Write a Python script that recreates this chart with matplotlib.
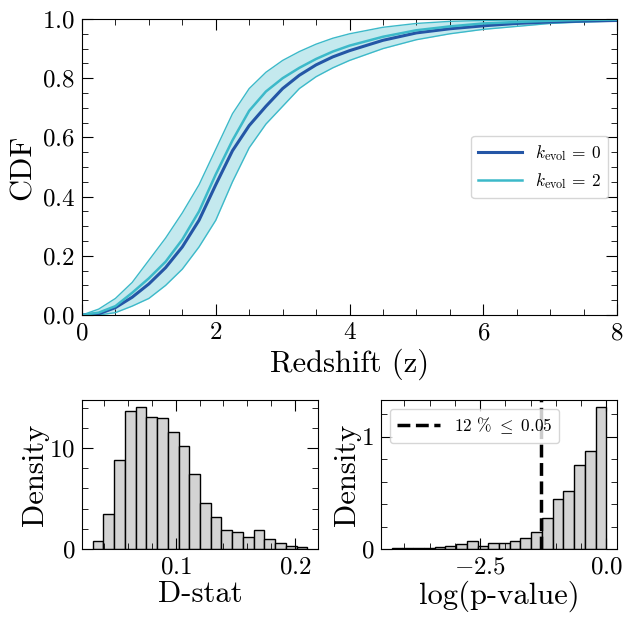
import numpy as np
import matplotlib
matplotlib.use("Agg")
import matplotlib.pyplot as plt
from matplotlib.ticker import MultipleLocator, AutoMinorLocator

plt.rcParams['font.family'] = 'serif'
plt.rcParams['font.serif'] = ['cmr10']
plt.rcParams['mathtext.fontset'] = 'cm'
plt.rcParams['axes.formatter.use_mathtext'] = True

# -------------------------
# CDF of redshift
# -------------------------
z = [0, 0.25, 0.5, 0.75, 1.0, 1.25, 1.5, 1.75, 2.0, 2.25, 2.5, 2.75, 3.0,
     3.25, 3.5, 3.75, 4.0, 4.5, 5.0, 5.5, 6.0, 6.5, 7.0, 7.5, 8.0]
cdf_k0 = [0, 0.004, 0.025, 0.06, 0.105, 0.16, 0.23, 0.32, 0.44, 0.555, 0.64,
          0.705, 0.765, 0.81, 0.845, 0.872, 0.893, 0.928, 0.953, 0.967, 0.977,
          0.985, 0.99, 0.993, 0.995]
cdf_k2 = [0, 0.008, 0.03, 0.075, 0.124, 0.18, 0.255, 0.35, 0.475, 0.59, 0.69,
          0.755, 0.8, 0.835, 0.865, 0.89, 0.91, 0.94, 0.962, 0.975, 0.985,
          0.99, 0.994, 0.997, 0.998]
cdf_k2_hi = [0, 0.02, 0.056, 0.11, 0.185, 0.26, 0.345, 0.44, 0.56, 0.68, 0.765,
             0.82, 0.86, 0.89, 0.915, 0.935, 0.95, 0.972, 0.985, 0.992, 0.995,
             0.997, 0.998, 0.999, 1.0]
cdf_k2_lo = [0, 0.0, 0.008, 0.03, 0.056, 0.1, 0.155, 0.23, 0.32, 0.45, 0.565,
             0.645, 0.705, 0.765, 0.805, 0.835, 0.86, 0.9, 0.93, 0.95, 0.965,
             0.975, 0.985, 0.99, 0.993]

# -------------------------
# Histograms (density per bin)
# -------------------------
dstat_range = [0.0303, 0.2103]
dstat_density = [0.83, 3.5, 8.84, 13.64, 14.07, 13.08, 12.95, 11.56, 10.2, 7.42,
                 4.6, 3.18, 1.85, 1.72, 1.16, 1.85, 0.96, 0.63, 0.3, 0.17]
logp_range = [-4.25, 0.0]
logp_density = [0.006, 0.006, 0.012, 0.012, 0.015, 0.027, 0.045, 0.069, 0.03,
                0.05, 0.05, 0.075, 0.096, 0.155, 0.275, 0.448, 0.513, 0.752,
                0.875, 1.266]
p_thresh = 0.05
frac_below = 12

c_dark = '#2456a6'
c_cyan = '#3cb9c9'

fig = plt.figure(figsize=(6.28, 6.19), dpi=100)
W, H = 628, 619
ax = fig.add_axes([82 / W, 1 - 315 / H, 535 / W, 296 / H])
ax1 = fig.add_axes([82 / W, 1 - 549 / H, 236 / W, 149 / H])
ax2 = fig.add_axes([381 / W, 1 - 549 / H, 236 / W, 149 / H])

# top panel
ax.fill_between(z, cdf_k2_lo, cdf_k2_hi, color=c_cyan, alpha=0.3, lw=0)
ax.plot(z, cdf_k2_lo, color=c_cyan, lw=1)
ax.plot(z, cdf_k2_hi, color=c_cyan, lw=1)
ax.plot(z, cdf_k0, color=c_dark, lw=2.2, label=r'$k_{\rm evol}\,=\,0$')
ax.plot(z, cdf_k2, color=c_cyan, lw=1.8, label=r'$k_{\rm evol}\,=\,2$')
ax.set_xlim(0, 8)
ax.set_ylim(0, 1)
ax.set_xlabel('Redshift (z)', fontsize=22, labelpad=3)
ax.set_ylabel('CDF', fontsize=22, labelpad=4)
ax.xaxis.set_major_locator(MultipleLocator(2))
ax.yaxis.set_major_locator(MultipleLocator(0.2))
ax.yaxis.set_major_formatter(plt.FormatStrFormatter('$%.1f$'))
ax.legend(loc='center right', fontsize=12.5, handlelength=2.5)

# bottom left
edges = np.linspace(dstat_range[0], dstat_range[1], len(dstat_density) + 1)
ax1.bar(edges[:-1], dstat_density, width=np.diff(edges), align='edge',
        color='lightgray', edgecolor='k', lw=1)
ax1.set_xlabel('D-stat', fontsize=22, labelpad=2)
ax1.set_ylabel('Density', fontsize=22, labelpad=0)
ax1.xaxis.set_major_locator(MultipleLocator(0.1))
ax1.yaxis.set_major_locator(MultipleLocator(10))

# bottom right
edges = np.linspace(logp_range[0], logp_range[1], len(logp_density) + 1)
ax2.bar(edges[:-1], logp_density, width=np.diff(edges), align='edge',
        color='lightgray', edgecolor='k', lw=1)
ax2.axvline(np.log10(p_thresh), color='k', ls='--', lw=2.5,
            label=r'$%d\ \%%\ \leq\ %.2f$' % (frac_below, p_thresh))
ax2.set_xlabel('log(p-value)', fontsize=22, labelpad=2)
ax2.set_ylabel('Density', fontsize=22, labelpad=0)
ax2.xaxis.set_major_locator(MultipleLocator(2.5))
ax2.yaxis.set_major_locator(MultipleLocator(1))
ax2.legend(loc='upper left', fontsize=12.5, handlelength=2.5)

for a in (ax, ax1, ax2):
    a.xaxis.set_minor_locator(AutoMinorLocator())
    a.yaxis.set_minor_locator(AutoMinorLocator())
    a.tick_params(which='both', direction='in', top=True, right=True,
                  labelsize=18, pad=5)
    a.tick_params(which='major', length=8)
    a.tick_params(which='minor', length=4)

fig.savefig('out.png', dpi=100)
